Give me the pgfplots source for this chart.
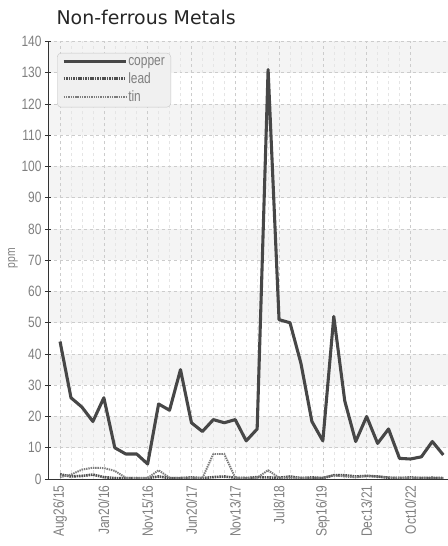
\documentclass[border=0pt]{standalone}
\usepackage{fontspec}
\usepackage{pgfplots}
\usepackage{pgfplotstable}
\pgfplotsset{compat=1.18}
\setmainfont{Liberation Sans}
\newfontfamily\narrow[FakeStretch=0.8]{Liberation Sans}
\newfontfamily\titlefont{DejaVu Sans}

\definecolor{cu}{HTML}{474747}
\definecolor{pb}{HTML}{4F4F4F}
\definecolor{sn}{HTML}{7C7C7C}
\definecolor{lbl}{HTML}{7F7F7F}
\definecolor{band}{HTML}{F4F4F4}

% idx = sample number, ticks every 4th sample
\pgfplotstableread{
idx copper lead tin
0  44   1.5  0.6
1  26   0.8  1.4
2  23   1.0  3.0
3  18.4 1.4  3.6
4  26   0.6  3.5
5  10   0.3  2.6
6  8    0.3  0.4
7  8    0.3  0.3
8  4.8  0.3  0.3
9  24   0.8  2.8
10 22   0.3  0.4
11 35   0.3  0.3
12 18   0.5  0.3
13 15.2 0.3  0.3
14 19   0.6  8.0
15 18   0.8  8.0
16 19   0.4  0.4
17 12.2 0.3  0.3
18 16   0.6  0.4
19 131  0.5  2.8
20 51   0.4  0.4
21 50   0.8  0.3
22 37   0.3  0.4
23 18.4 0.5  0.3
24 12.2 0.3  0.4
25 52   1.2  1.2
26 25   1.2  0.8
27 12   0.8  0.5
28 20   1.0  1.0
29 11.4 0.8  0.8
30 16   0.4  0.5
31 6.6  0.3  0.4
32 6.4  0.5  0.3
33 7.1  0.3  0.4
34 12   0.4  0.3
35 7.7  0.3  0.3
}\metals

\begin{document}
\begin{tikzpicture}
\begin{axis}[
    set layers,
    scale only axis,
    width=400bp, height=437.5bp,
    xmin=-1.1, xmax=35.43,
    ymin=0, ymax=140,
    ytick distance=10,
    xtick={0,4,...,32},
    xticklabels={Aug26/15,Jan20/16,Nov15/16,Jun20/17,Nov13/17,Jul8/18,Sep16/19,Dec13/21,Oct10/22},
    minor x tick num=3,
    axis x line*=bottom,
    axis y line*=left,
    axis line style={draw=black!80, line width=0.8pt},
    tick align=center,
    major tick length=6bp,
    minor tick length=0pt,
    x tick style={draw=none},
    y tick style={black!80, line width=0.8pt},
    grid=both,
    major grid style={dashed, draw=black!20, line width=0.6pt},
    minor grid style={dashed, draw=black!10, line width=0.5pt},
    /pgf/number format/assume math mode=true,
    ticklabel style={font=\narrow\fontsize{15}{18}\selectfont, text=lbl},
    xticklabel style={rotate=90, anchor=east},
    ylabel={ppm},
    ylabel style={font=\narrow\fontsize{13}{15}\selectfont, text=lbl,
        at={(axis description cs:-0.0875,0.505)}, anchor=center},
    title={Non-ferrous Metals},
    title style={font=\titlefont\fontsize{19}{22}\selectfont, text=black!85,
        at={(axis description cs:0.0125,1.025)}, anchor=base west, yshift=0pt},
    legend style={at={(axis description cs:0.0225,0.974)}, anchor=north west,
        draw=black!22, fill=black!6, rounded corners=4pt,
        font=\narrow\fontsize{15}{18}\selectfont, text=lbl,
        inner xsep=5pt, inner ysep=3pt, row sep=4pt,
        nodes={inner sep=1pt}},
    legend cell align=left,
    legend image code/.code={\draw[#1] (-2bp,0bp) -- (60bp,0bp);},
]
\begin{pgfonlayer}{axis background}
\fill[band] (axis cs:-1.1,10) rectangle (axis cs:35.43,20);
\fill[band] (axis cs:-1.1,30) rectangle (axis cs:35.43,40);
\fill[band] (axis cs:-1.1,50) rectangle (axis cs:35.43,60);
\fill[band] (axis cs:-1.1,70) rectangle (axis cs:35.43,80);
\fill[band] (axis cs:-1.1,90) rectangle (axis cs:35.43,100);
\fill[band] (axis cs:-1.1,110) rectangle (axis cs:35.43,120);
\fill[band] (axis cs:-1.1,130) rectangle (axis cs:35.43,140);
\end{pgfonlayer}
\addplot[cu, line width=3.1pt, line join=round] table[x=idx, y=copper] {\metals};
\addlegendentry{copper}
\addplot[pb, line width=2.6pt, dash pattern=on 1.6pt off 0.8pt] table[x=idx, y=lead] {\metals};
\addlegendentry{lead}
\addplot[sn, line width=2pt, dash pattern=on 1.4pt off 0.9pt, line join=round] table[x=idx, y=tin] {\metals};
\addlegendentry{tin}
\end{axis}
\pgfresetboundingbox
\useasboundingbox (-48bp,-67bp) rectangle (400bp,479bp);
\end{tikzpicture}
\end{document}
